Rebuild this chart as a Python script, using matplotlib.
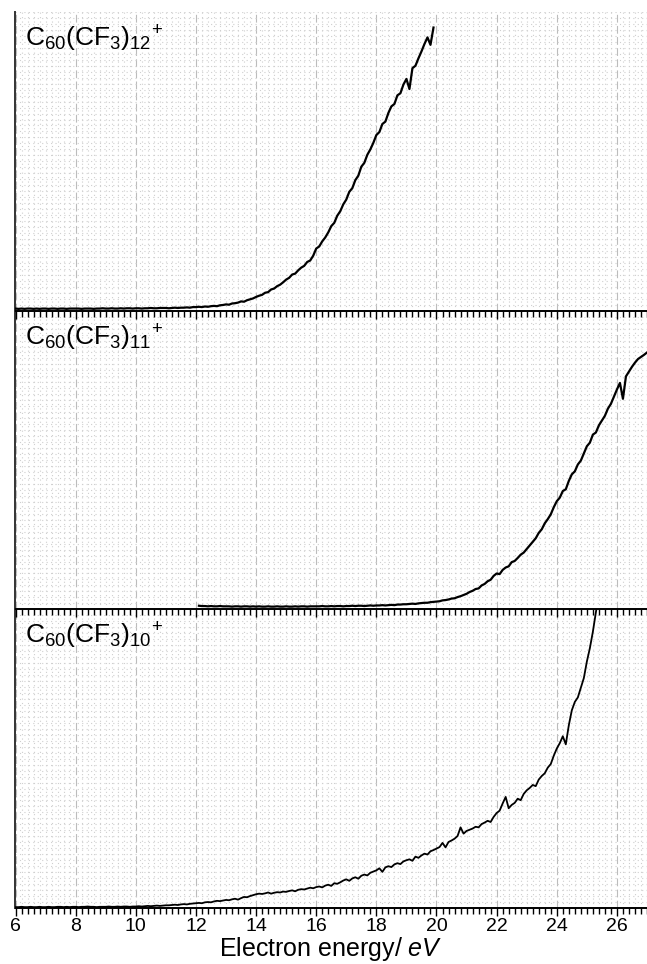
import numpy as np
import matplotlib
matplotlib.use("Agg")
import matplotlib.pyplot as plt
from matplotlib.ticker import MultipleLocator, NullLocator

plt.rcParams["font.family"] = ["Liberation Sans", "DejaVu Sans"]
plt.rcParams["mathtext.fontset"] = "custom"
plt.rcParams["mathtext.rm"] = "Liberation Sans"
plt.rcParams["mathtext.it"] = "Liberation Sans:italic"

# ion yield curves (relative units, 0..1 per panel)
# C60(CF3)12+ : 6.0 .. 19.9 eV, step 0.1
e12 = np.round(np.arange(6.0, 19.95, 0.1), 2)
y12 = [
    0.007, 0.006, 0.007, 0.006, 0.007, 0.007, 0.006, 0.007, 0.006, 0.007,
    0.007, 0.006, 0.007, 0.007, 0.006, 0.007, 0.007, 0.006, 0.007, 0.007,
    0.007, 0.007, 0.006, 0.007, 0.007, 0.007, 0.006, 0.007, 0.007, 0.008,
    0.007, 0.007, 0.008, 0.007, 0.007, 0.008, 0.007, 0.008, 0.008, 0.007,
    0.008, 0.008, 0.007, 0.008, 0.008, 0.009, 0.008, 0.008, 0.009, 0.009,
    0.009, 0.008, 0.009, 0.010, 0.009, 0.010, 0.010, 0.011, 0.010, 0.012,
    0.012, 0.013, 0.012, 0.014, 0.013, 0.015, 0.016, 0.015, 0.018, 0.019,
    0.021, 0.020, 0.024, 0.025, 0.027, 0.031, 0.030, 0.035, 0.038, 0.041,
    0.046, 0.050, 0.053, 0.060, 0.062, 0.071, 0.074, 0.082, 0.087, 0.095,
    0.104, 0.110, 0.121, 0.124, 0.135, 0.144, 0.150, 0.163, 0.168, 0.184,
    0.208, 0.215, 0.232, 0.245, 0.262, 0.283, 0.294, 0.318, 0.333, 0.356,
    0.372, 0.398, 0.410, 0.437, 0.452, 0.482, 0.495, 0.522, 0.540, 0.562,
    0.588, 0.598, 0.625, 0.633, 0.662, 0.684, 0.692, 0.721, 0.728, 0.757,
    0.776, 0.742, 0.812, 0.820, 0.845, 0.868, 0.893, 0.915, 0.890, 0.948,
]

# C60(CF3)11+ : 12.1 .. 27.0 eV, step 0.1
e11 = np.round(np.arange(12.1, 27.05, 0.1), 2)
y11 = [
    0.012, 0.011, 0.011, 0.010, 0.011, 0.010, 0.010, 0.011, 0.010,
    0.010, 0.010, 0.009, 0.010, 0.010, 0.009, 0.010, 0.010, 0.009, 0.010,
    0.009, 0.010, 0.009, 0.009, 0.010, 0.009, 0.009, 0.010, 0.009, 0.009,
    0.010, 0.009, 0.009, 0.010, 0.009, 0.010, 0.010, 0.009, 0.010, 0.010,
    0.010, 0.010, 0.011, 0.010, 0.010, 0.011, 0.010, 0.011, 0.011, 0.010,
    0.011, 0.011, 0.012, 0.011, 0.012, 0.012, 0.011, 0.012, 0.013, 0.012,
    0.013, 0.013, 0.014, 0.013, 0.014, 0.015, 0.014, 0.016, 0.016, 0.017,
    0.017, 0.018, 0.019, 0.018, 0.020, 0.021, 0.022, 0.022, 0.024, 0.025,
    0.026, 0.027, 0.030, 0.031, 0.033, 0.036, 0.037, 0.041, 0.044, 0.048,
    0.052, 0.058, 0.062, 0.068, 0.070, 0.080, 0.085, 0.094, 0.099, 0.112,
    0.120, 0.118, 0.132, 0.140, 0.144, 0.158, 0.162, 0.172, 0.183, 0.190,
    0.202, 0.214, 0.226, 0.238, 0.256, 0.268, 0.288, 0.302, 0.318, 0.342,
    0.362, 0.374, 0.396, 0.402, 0.430, 0.452, 0.462, 0.485, 0.498, 0.522,
    0.546, 0.558, 0.585, 0.592, 0.616, 0.632, 0.648, 0.672, 0.688, 0.712,
    0.736, 0.758, 0.705, 0.780, 0.796, 0.812, 0.826, 0.838, 0.845, 0.852,
    0.860,
]

# C60(CF3)10+ : 6.0 .. 25.4 eV, step 0.1
e10 = np.round(np.arange(6.0, 25.45, 0.1), 2)
y10 = [
    0.003, 0.003, 0.004, 0.003, 0.003, 0.004, 0.003, 0.003, 0.004, 0.003,
    0.003, 0.004, 0.003, 0.003, 0.004, 0.004, 0.003, 0.004, 0.003, 0.004,
    0.004, 0.003, 0.004, 0.004, 0.005, 0.004, 0.004, 0.003, 0.004, 0.004,
    0.004, 0.005, 0.004, 0.004, 0.005, 0.004, 0.005, 0.005, 0.004, 0.005,
    0.005, 0.006, 0.005, 0.006, 0.007, 0.006, 0.007, 0.008, 0.007, 0.008,
    0.009, 0.009, 0.010, 0.011, 0.010, 0.012, 0.013, 0.012, 0.014, 0.015,
    0.016, 0.017, 0.016, 0.019, 0.020, 0.019, 0.022, 0.024, 0.023, 0.025,
    0.027, 0.026, 0.029, 0.031, 0.028, 0.033, 0.037, 0.036, 0.040, 0.043,
    0.046, 0.048, 0.047, 0.049, 0.052, 0.048, 0.051, 0.053, 0.052, 0.055,
    0.054, 0.057, 0.059, 0.056, 0.061, 0.063, 0.062, 0.065, 0.068, 0.066,
    0.070, 0.072, 0.069, 0.075, 0.078, 0.074, 0.083, 0.081, 0.086, 0.092,
    0.096, 0.091, 0.099, 0.103, 0.098, 0.108, 0.112, 0.109, 0.118, 0.122,
    0.126, 0.133, 0.121, 0.136, 0.140, 0.137, 0.146, 0.150, 0.147, 0.156,
    0.160, 0.163, 0.158, 0.172, 0.168, 0.176, 0.182, 0.179, 0.190, 0.194,
    0.199, 0.204, 0.218, 0.203, 0.221, 0.226, 0.232, 0.241, 0.270, 0.249,
    0.258, 0.262, 0.266, 0.272, 0.270, 0.281, 0.286, 0.292, 0.288, 0.305,
    0.318, 0.326, 0.350, 0.372, 0.334, 0.345, 0.352, 0.366, 0.361, 0.382,
    0.394, 0.402, 0.412, 0.408, 0.430, 0.442, 0.451, 0.470, 0.482, 0.510,
    0.534, 0.552, 0.575, 0.548, 0.612, 0.662, 0.690, 0.705, 0.738, 0.770,
    0.825, 0.870, 0.925, 0.990, 1.050,
]

labels = [r"$\mathregular{C_{60}(CF_{3})_{12}{}^{+}}$",
          r"$\mathregular{C_{60}(CF_{3})_{11}{}^{+}}$",
          r"$\mathregular{C_{60}(CF_{3})_{10}{}^{+}}$"]
xticks = [6, 8, 10, 12, 14, 16, 18, 20, 22, 24, 26]

fig = plt.figure(figsize=(6.47, 9.64), dpi=100)
W, H = 647.0, 964.0
left = 15.5 / W
top = 12 / H
bottom = 56 / H
ph = (1 - top - bottom) / 3

curves = [(e12, y12, 1.6), (e11, y11, 1.6), (e10, y10, 1.3)]
for i, (ex, ey, lw) in enumerate(curves):
    ax = fig.add_axes([left, bottom + (2 - i) * ph, 1 - left, ph])
    ax.set_zorder(3 - i)          # upper panels on top so their ticks show
    ax.patch.set_visible(False)
    ax.plot(ex, ey, color="black", lw=lw, zorder=3)
    ax.set_xlim(6, 27.0)
    ax.set_ylim(0, 1)
    ax.set_axisbelow(True)

    ax.xaxis.set_major_locator(MultipleLocator(2))
    ax.xaxis.set_minor_locator(MultipleLocator(0.2))
    ax.yaxis.set_major_locator(NullLocator())
    ax.yaxis.set_minor_locator(MultipleLocator(0.02))

    ax.grid(which="major", axis="x", color="#bcbcbc", lw=0.8, ls=(0, (7, 3)))
    ax.grid(which="minor", axis="both", color="#cfcfcf", lw=0.8, ls=(0, (1, 3)))

    for s in ["top", "right"]:
        ax.spines[s].set_visible(False)
    ax.spines["left"].set_linewidth(1.4)
    ax.spines["left"].set_color("#333333")
    ax.spines["bottom"].set_linewidth(1.4)

    ax.tick_params(axis="y", which="both", left=False, labelleft=False)
    ax.tick_params(axis="x", which="major", direction="out", length=5.5, width=1.0)
    ax.tick_params(axis="x", which="minor", direction="out", length=4, width=1.0)

    ax.text(0.015, 0.885, labels[i], transform=ax.transAxes, fontsize=19,
            va="baseline", ha="left")

    if i < 2:
        ax.tick_params(axis="x", labelbottom=False)
    else:
        ax.set_xticks(xticks)
        ax.tick_params(axis="x", labelsize=14, pad=2)
        ax.set_xlabel(r"Electron energy/ $\mathit{eV}$", fontsize=18, labelpad=0)

fig.savefig("out.png", dpi=100)
